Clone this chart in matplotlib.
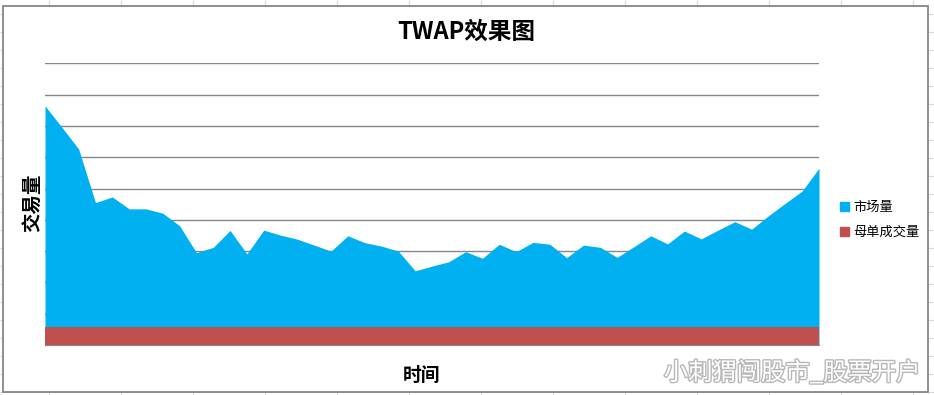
import matplotlib
matplotlib.use('Agg')
import matplotlib.pyplot as plt
import matplotlib.patheffects as pe
from matplotlib.patches import Rectangle, Patch
import numpy as np

plt.rcParams['font.family'] = ['Noto Sans CJK SC', 'DejaVu Sans']

# market volume per interval (top of blue area), arbitrary units
market = [764, 696, 626, 455, 473, 435, 435, 421, 381, 295, 312, 366,
          291, 367, 351, 338, 319, 300, 349, 327, 316, 300, 237, 252,
          266, 298, 277, 322, 298, 328, 322, 279, 319, 312, 280, 314,
          349, 323, 364, 339, 367, 394, 370, 413, 453, 492, 565]
# parent order fills per interval
parent = [57, 57, 57, 57, 57, 57, 57, 57, 57, 57, 57, 57,
          57, 57, 57, 57, 57, 57, 57, 57, 57, 57, 57, 57,
          57, 57, 57, 57, 57, 57, 57, 57, 57, 57, 57, 57,
          57, 57, 57, 57, 57, 57, 57, 57, 57, 57, 57]
labels = ['市场量', '母单成交量']
title = 'TWAP效果图'
x = np.arange(len(market))

W, H = 934, 395
fig = plt.figure(figsize=(W / 100, H / 100), dpi=100)

# spreadsheet background and chart frame, in pixel coords
bg = fig.add_axes([0, 0, 1, 1])
bg.set_xlim(0, W)
bg.set_ylim(H, 0)
bg.axis('off')
bg.vlines(np.arange(49.3, W, 72), 0, H, color='#d9d9d9', lw=0.8, zorder=1)
bg.hlines(np.arange(14, H, 18), 0, W, color='#d9d9d9', lw=0.8, zorder=1)
bg.add_patch(Rectangle((2.7, 6), 925.3, 386.3, facecolor='white',
                       edgecolor='#868686', lw=1.3, zorder=3))

# plot area
left, right, top, bottom = 45, 819, 63.3, 345
ax = fig.add_axes([left / W, 1 - bottom / H, (right - left) / W,
                   (bottom - top) / H])
ax.set_facecolor('none')
ax.fill_between(x, 0, market, color='#00B0F0', lw=0, zorder=2)
ax.fill_between(x, 0, parent, color='#C0504D', lw=0, zorder=3)
ax.set_xlim(x[0], x[-1])
ax.set_ylim(0, 900)
ax.set_yticks(np.arange(0, 901, 100))
ax.yaxis.grid(True, color='#878787', lw=1)
ax.set_axisbelow(True)
ax.tick_params(left=False, bottom=False, labelleft=False, labelbottom=False)
for s in ['left', 'right', 'top']:
    ax.spines[s].set_visible(False)
ax.spines['bottom'].set_color('#878787')
ax.spines['bottom'].set_zorder(4)

fig.text(466 / W, 1 - 32 / H, title, ha='center', va='center',
         fontsize=17, fontweight='bold')
fig.text(33 / W, 1 - 203 / H, '交易量', ha='center', va='center',
         rotation=90, fontsize=14, fontweight='bold')
fig.text(421 / W, 1 - 375 / H, '时间', ha='center', va='center',
         fontsize=13.5, fontweight='bold')

handles = [Patch(color='#00B0F0'), Patch(color='#C0504D')]
fig.legend(handles, labels, loc='center left',
           bbox_to_anchor=(828 / W, 1 - 220 / H), frameon=False,
           fontsize=9.5, handlelength=0.7, handleheight=0.7,
           handletextpad=0.35, labelspacing=0.9)

# watermark
fig.text(920 / W, 1 - 373 / H, '小刺猬闯股市_股票开户', ha='right',
         va='center', fontsize=17.5, color='white',
         path_effects=[pe.withStroke(linewidth=2, foreground='#b8b8b8')])

fig.savefig('out.png', dpi=100)
